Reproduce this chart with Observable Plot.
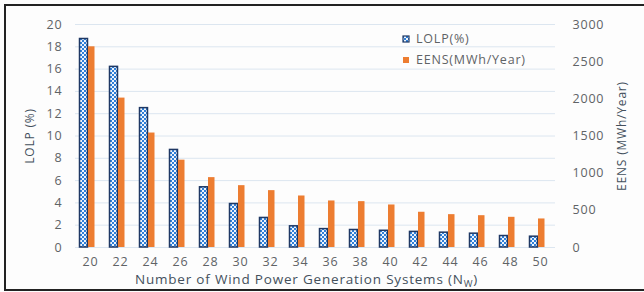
<!DOCTYPE html>
<html>
<head>
<meta charset="utf-8">
<script src="https://cdn.jsdelivr.net/npm/d3@7"></script>
<script src="https://cdn.jsdelivr.net/npm/@observablehq/plot@0.6"></script>
<style>
  html, body { margin: 0; padding: 0; background: #fdfdfd; }
  #wrap { position: relative; width: 644px; height: 292px; overflow: hidden; }
  #frame { position: absolute; left: 4px; top: 4px; width: 660px; height: 287px;
           border-left: 2px solid #222; border-top: 2px solid #222; border-bottom: 2px solid #222; box-sizing: border-box; pointer-events: none; }
  svg { font-family: "Open Sans", sans-serif; }
</style>
</head>
<body>
<div id="wrap"><div id="frame"></div></div>
<script>
const categories = [20, 22, 24, 26, 28, 30, 32, 34, 36, 38, 40, 42, 44, 46, 48, 50];
const lolp = [18.7, 16.2, 12.5, 8.75, 5.4, 3.9, 2.65, 1.9, 1.65, 1.57, 1.5, 1.4, 1.33, 1.24, 1.03, 0.97];
const eens = [2700, 2010, 1540, 1175, 940, 832, 765, 693, 626, 617, 572, 474, 442, 428, 406, 384];
const leftTicks = [0, 2, 4, 6, 8, 10, 12, 14, 16, 18, 20];
const rightTicks = [0, 500, 1000, 1500, 2000, 2500, 3000];
const ratio = 150; // MWh per LOLP % on shared axis
const seriesNames = ["LOLP(%)", "EENS(MWh/Year)"];
const colors = { lolpStroke: "#1f3864", lolpFill: "#2f7fd8", eens: "#ed7d31" };

const data = categories.map((c, i) => ({ c, lolp: lolp[i], eens: eens[i], eensScaled: eens[i] / ratio }));

const textColor = "#5f6366";
const titleColor = "#44505c";
const chart = Plot.plot({
  width: 644,
  height: 292,
  marginTop: 24,
  marginBottom: 45,
  marginLeft: 72,
  marginRight: 92,
  style: { background: "transparent", color: textColor, fontSize: "12px", fontFamily: "Open Sans, sans-serif", letterSpacing: "0.8px" },
  x: { type: "band", domain: categories, padding: 0 },
  y: { domain: [0, 20] },
  marks: [
    Plot.ruleY(leftTicks, { stroke: "#dce6f0", strokeWidth: 1, dx: 3 }),
    Plot.barY(data, { x: "c", y: "lolp", fill: "url(#chk)", stroke: colors.lolpStroke, strokeWidth: 1.5, insetLeft: 7.5, insetRight: 14.5 }),
    Plot.barY(data, { x: "c", y: "eensScaled", fill: colors.eens, insetLeft: 16, insetRight: 7.5 }),
    Plot.axisX({ tickSize: 0, tickPadding: 10, dx: 3, fontSize: 12.5, fill: textColor, label: null }),
    Plot.axisY({ ticks: leftTicks, tickSize: 0, tickPadding: 10, fontSize: 12.5, fill: textColor, label: null }),
    Plot.axisY({ anchor: "right", ticks: rightTicks.map(v => v / ratio), tickFormat: d => String(Math.round(d * ratio)), tickSize: 0, tickPadding: 20, fontSize: 12.5, fill: textColor, label: null }),
    Plot.text(["Number of Wind Power Generation Systems (N"], { frameAnchor: "bottom", dy: 36, dx: -6, fontSize: 13.5, fill: titleColor, textAnchor: "middle" }),
    Plot.text(["LOLP (%)"], { frameAnchor: "left", dx: -42, rotate: -90, fontSize: 12, fill: titleColor, textAnchor: "middle" }),
    Plot.text(["EENS (MWh/Year)"], { frameAnchor: "right", dx: 70, rotate: -90, fontSize: 12, fill: titleColor, textAnchor: "middle" })
  ]
});

// pattern defs
const svg = d3.select(chart);
const defs = svg.insert("defs", ":first-child");
const pat = defs.append("pattern").attr("id", "chk").attr("patternUnits", "userSpaceOnUse").attr("width", 4).attr("height", 4);
pat.append("rect").attr("width", 4).attr("height", 4).attr("fill", colors.lolpFill);
pat.append("rect").attr("width", 2).attr("height", 2).attr("fill", "#eef4fc");
pat.append("rect").attr("x", 2).attr("y", 2).attr("width", 2).attr("height", 2).attr("fill", "#eef4fc");

// subscript W for x title
const xt = svg.selectAll("text").filter(function () { return this.textContent.startsWith("Number of"); });
xt.each(function () {
  const t = d3.select(this);
  const tsp = t.select("tspan").empty() ? t : t.select("tspan");
  tsp.append("tspan").attr("font-size", 9.5).attr("dy", 3).text("W");
  tsp.append("tspan").attr("dy", -3).text(")");
});

// legend
const lg = svg.append("g").attr("font-size", 12.5).attr("fill", textColor).attr("text-anchor", "start");
const legendItems = [
  { name: seriesNames[0], fill: "url(#chk)", stroke: colors.lolpStroke, y: 39 },
  { name: seriesNames[1], fill: colors.eens, stroke: "none", y: 60 }
];
legendItems.forEach(it => {
  lg.append("rect").attr("x", 403).attr("y", it.y - 3).attr("width", 6).attr("height", 6)
    .attr("fill", it.fill).attr("stroke", it.stroke).attr("stroke-width", it.stroke === "none" ? 0 : 1.2);
  lg.append("text").attr("x", 416).attr("y", it.y).attr("dy", "0.35em").attr("text-anchor", "start").text(it.name);
});

document.getElementById("wrap").prepend(chart);
</script>
</body>
</html>
